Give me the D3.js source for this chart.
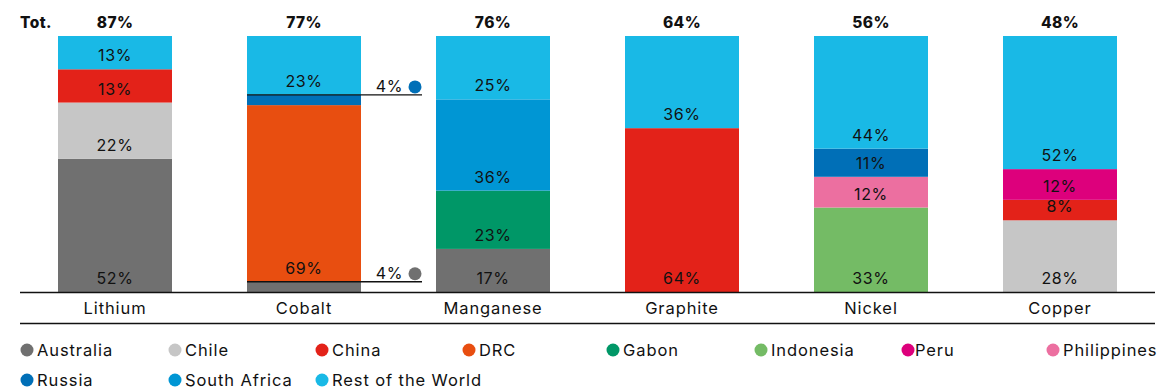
<!DOCTYPE html>
<html><head><meta charset="utf-8">
<script src="https://cdn.jsdelivr.net/npm/d3@7"></script>
<style>
body{margin:0;background:#fff;}
text{font-family:Inter,"Noto Sans",sans-serif;fill:#111;}
</style></head>
<body><svg id="c" width="1158" height="390"></svg>
<script>
const categories = ["Lithium","Cobalt","Manganese","Graphite","Nickel","Copper"];
const totals = [87,77,76,64,56,48];
const countries = ["Australia","Chile","China","DRC","Gabon","Indonesia","Peru","Philippines","Russia","South Africa","Rest of the World"];
const colors = ["#707070","#c6c6c6","#e32219","#e84e10","#009767","#74bb65","#dd007c","#ec6fa0","#006fb7","#0096d4","#19b9e6"];
const australia = [52,4,17,0,0,0];
const chile = [22,0,0,0,0,28];
const china = [13,0,0,64,0,8];
const drc = [0,69,0,0,0,0];
const gabon = [0,0,23,0,0,0];
const indonesia = [0,0,0,0,33,0];
const peru = [0,0,0,0,0,12];
const philippines = [0,0,0,0,12,0];
const russia = [0,4,0,0,11,0];
const southAfrica = [0,0,36,0,0,0];
const restOfWorld = [13,23,25,36,44,52];
const seriesValues = [australia,chile,china,drc,gabon,indonesia,peru,philippines,russia,southAfrica,restOfWorld];

const table = categories.map((c,i)=>{
  const o={category:c};
  countries.forEach((k,j)=>o[k]=seriesValues[j][i]);
  return o;
});
const stack = d3.stack().keys(countries).offset(d3.stackOffsetExpand);
const series = stack(table);

const svg = d3.select("#c");
const x = d3.scaleBand().domain(categories).range([20.5,1154.5]).paddingInner(75/189).paddingOuter(75/189/2);
const y = d3.scaleLinear().domain([0,1]).range([292,36]);
const color = d3.scaleOrdinal().domain(countries).range(colors);

const g = svg.append("g");
series.forEach((s,si)=>{
  s.forEach((d,i)=>{
    const v = seriesValues[si][i];
    if(!v) return;
    const cat = categories[i];
    g.append("rect").attr("x",x(cat)).attr("width",x.bandwidth())
      .attr("y",y(d[1])).attr("height",y(d[0])-y(d[1])).attr("fill",color(s.key));
  });
});
// labels
series.forEach((s,si)=>{
  s.forEach((d,i)=>{
    const v = seriesValues[si][i];
    if(!v) return;
    const cat = categories[i];
    if(v>=5){
      g.append("text").attr("x",x(cat)+x.bandwidth()/2).attr("y",y(d[0])-8)
        .attr("text-anchor","middle").attr("font-size",16).attr("letter-spacing",0.6).text(v+"%");
    } else {
      const yy = y(d[1]);
      const x0 = x(cat), x1 = x(cat)+x.bandwidth()+61;
      g.append("line").attr("x1",x0).attr("x2",x1).attr("y1",yy).attr("y2",yy)
        .attr("stroke","#111").attr("stroke-width",1.3);
      g.append("text").attr("x",x1-19).attr("y",yy-3).attr("text-anchor","end")
        .attr("font-size",16).attr("letter-spacing",0.6).text(v+"%");
      g.append("circle").attr("cx",x1-7).attr("cy",yy-8).attr("r",6.5).attr("fill",color(s.key));
    }
  });
});
// axis lines
svg.append("line").attr("x1",20).attr("x2",1155).attr("y1",292.5).attr("y2",292.5).attr("stroke","#111").attr("stroke-width",1.5);
svg.append("line").attr("x1",20).attr("x2",1155).attr("y1",323.5).attr("y2",323.5).attr("stroke","#111").attr("stroke-width",1.5);
const xAxis = d3.axisBottom(x).tickSize(0).tickPadding(0);
const ax = svg.append("g").attr("transform","translate(0,302)").call(xAxis);
ax.select(".domain").remove();
ax.selectAll("text").attr("font-size",16.5).attr("letter-spacing",0.9).attr("dy","0.71em").attr("fill","#111").style("font-family","Inter,'Noto Sans',sans-serif");
// totals
svg.append("text").attr("x",20).attr("y",28).attr("font-size",15.5).attr("font-weight",800).attr("letter-spacing",0.4).text("Tot.");
categories.forEach((c,i)=>{
  svg.append("text").attr("x",x(c)+x.bandwidth()/2).attr("y",28).attr("text-anchor","middle")
    .attr("font-size",15.5).attr("font-weight",800).attr("letter-spacing",0.4).text(totals[i]+"%");
});
// legend
const legX = [27,175,322,469,613,761,908,1053];
const leg = svg.append("g");
countries.forEach((k,i)=>{
  const row = Math.floor(i/8), col = i%8;
  const cx = legX[col], cy = 350+row*30;
  leg.append("circle").attr("cx",cx).attr("cy",cy).attr("r",6.5).attr("fill",color(k));
  leg.append("text").attr("x",cx+(k==="Peru"?7:10)).attr("y",cy+6).attr("font-size",16.5).attr("letter-spacing",0.9).text(k);
});
</script></body></html>
